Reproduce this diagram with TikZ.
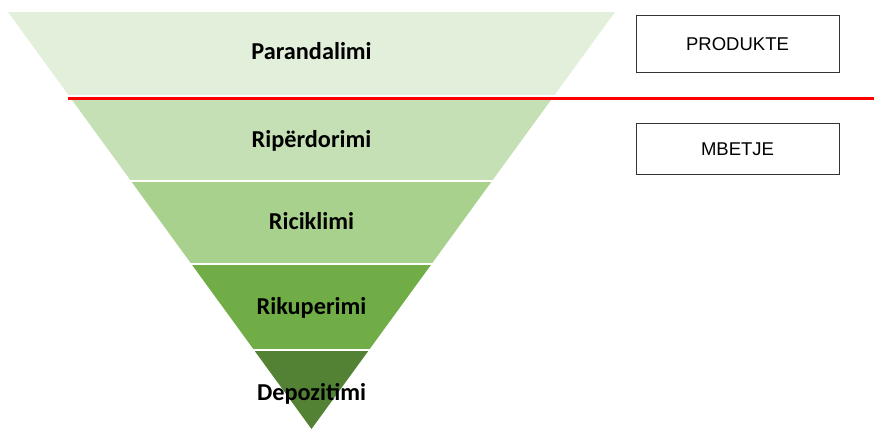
\documentclass[tikz,border=0pt]{standalone}
\usepackage{fontspec}
\newfontfamily\labelfont{Carlito}
\newfontfamily\boxfont{Liberation Sans}
\usetikzlibrary{positioning}
\definecolor{bandA}{HTML}{E2EFDA}
\definecolor{bandB}{HTML}{C5E0B4}
\definecolor{bandC}{HTML}{A9D18E}
\definecolor{bandD}{HTML}{70AD47}
\definecolor{bandE}{HTML}{548235}
\definecolor{sepred}{HTML}{FF0000}
\begin{document}
\begin{tikzpicture}[x=1pt, y=1pt,
		levellabel/.style={anchor=base, inner sep=0pt, font=\labelfont\bfseries\fontsize{24.3}{27}\selectfont},
		typebox/.style={draw=black!80, line width=0.8pt, minimum width=203pt, font=\boxfont\fontsize{18.5}{20}\selectfont},
		redline/.style={draw=sepred, line width=2.6pt}
		]
		\useasboundingbox (0,0) rectangle (874,429);
		
		% funnel bands
		\begin{scope}
			\clip (8,417) -- (615,417) -- (311.5,0) -- cycle;
			\foreach \lo/\hi/\col in {334/417/bandA, 249/329/bandB, 166/247/bandC, 80/164/bandD, 0/78/bandE}
			\fill[\col] (0,\lo) rectangle (700,\hi);
		\end{scope}
		
		\node[levellabel] (L1) at (311.5,369) {Parandalimi};
		\node[levellabel] (L2) at (311.5,281.7) {Ripërdorimi};
		\node[levellabel] (L3) at (311.5,199.7) {Riciklimi};
		\node[levellabel] (L4) at (311.5,114.7) {Rikuperimi};
		\node[levellabel] (L5) at (311.5,29) {Depozitimi};
		
		% separator
		\coordinate (R0) at (68,330.5);
		\coordinate (R1) at (874,330.5);
		\draw[redline] (R0) -- (R1);
		
		\node[typebox, minimum height=57pt] (prod) at (737.5,384.8) {PRODUKTE};
		\node[typebox, minimum height=51pt, below=50pt of prod] (mbet) {MBETJE};
	\end{tikzpicture}
\end{document}
